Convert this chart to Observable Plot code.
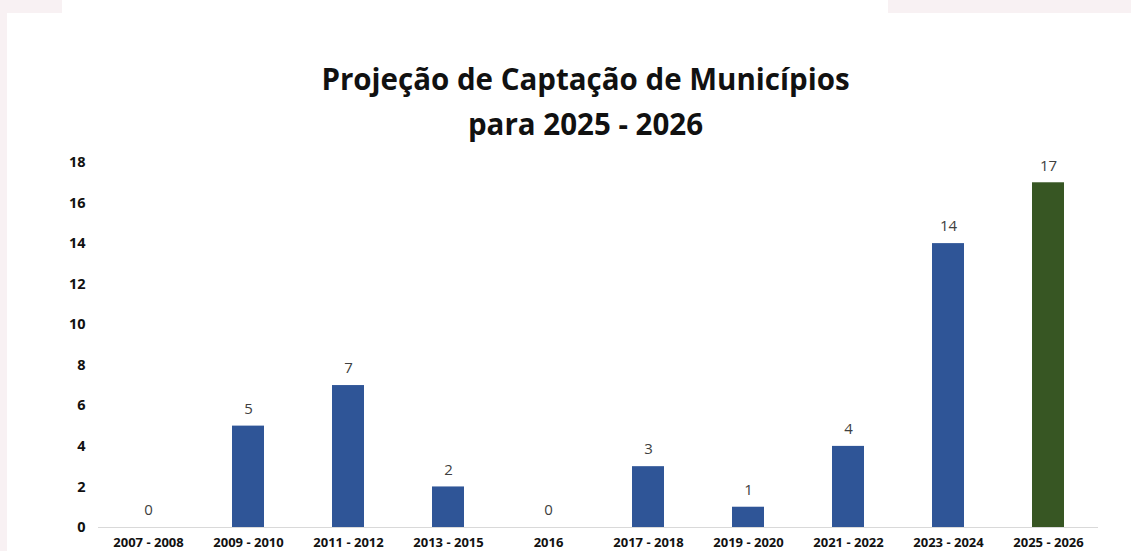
<!DOCTYPE html>
<html>
<head>
<meta charset="utf-8">
<script src="https://cdn.jsdelivr.net/npm/d3@7"></script>
<script src="https://cdn.jsdelivr.net/npm/@observablehq/plot@0.6"></script>
<style>
  html, body { margin: 0; padding: 0; }
  body { width: 1131px; height: 551px; background: #f8f1f3; position: relative; overflow: hidden; font-family: "Open Sans", sans-serif; }
  #card { position: absolute; left: 7px; top: 13px; right: 0; bottom: 0; background: #fff; }
  #topwhite { position: absolute; left: 62px; top: 0; width: 826px; height: 14px; background: #fff; }
  #title { position: absolute; left: 0; width: 1131px; top: 56px; padding-left: 40px; box-sizing: border-box; text-align: center; font-weight: bold; font-size: 29.5px; line-height: 45px; color: #111; }
  #chart { position: absolute; left: 0; top: 145px; }
</style>
</head>
<body>
<div id="card"></div>
<div id="topwhite"></div>
<div id="title">Projeção de Captação de Municípios<br>para 2025 - 2026</div>
<div id="chart"></div>
<script>
const periods = ["2007 - 2008", "2009 - 2010", "2011 - 2012", "2013 - 2015", "2016", "2017 - 2018", "2019 - 2020", "2021 - 2022", "2023 - 2024", "2025 - 2026"];
const counts = [0, 5, 7, 2, 0, 3, 1, 4, 14, 17];
const kinds = ["real", "real", "real", "real", "real", "real", "real", "real", "real", "projeção"];
const yTicks = [0, 2, 4, 6, 8, 10, 12, 14, 16, 18];

const data = periods.map((p, i) => ({period: p, value: counts[i], kind: kinds[i]}));

const chart = Plot.plot({
  width: 1131,
  height: 406,
  marginLeft: 98,
  marginRight: 33,
  marginTop: 17,
  marginBottom: 24,
  style: {background: "transparent", fontFamily: "Open Sans, sans-serif", color: "#000"},
  x: {domain: periods, paddingInner: 0.68, paddingOuter: 0.34, label: null, tickSize: 0, tickPadding: 8},
  y: {domain: [0, 18], ticks: yTicks, label: null, tickSize: 0, tickPadding: 13},
  color: {domain: ["real", "projeção"], range: ["#2f5597", "#375623"]},
  marks: [
    Plot.ruleY([0], {stroke: "#d9d9d9", strokeWidth: 1}),
    Plot.barY(data, {x: "period", y: "value", fill: "kind"}),
    Plot.text(data, {x: "period", y: "value", text: d => String(d.value), dy: -17, fill: "#404040", fontSize: 15}),
    Plot.axisY({ticks: yTicks, tickSize: 0, tickPadding: 13, fontSize: 14.5, fontWeight: "bold", fill: "#111", label: null}),
    Plot.axisX({tickSize: 0, tickPadding: 10, fontSize: 13, fontWeight: "bold", fill: "#111", label: null})
  ]
});
document.getElementById("chart").appendChild(chart);
</script>
</body>
</html>
